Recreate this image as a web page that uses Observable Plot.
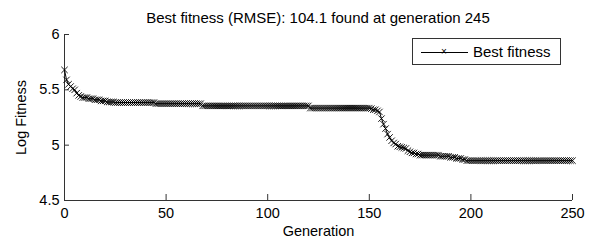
<!DOCTYPE html>
<html>
<head>
<meta charset="utf-8">
<script src="https://cdn.jsdelivr.net/npm/d3@7"></script>
<script src="https://cdn.jsdelivr.net/npm/@observablehq/plot@0.6"></script>
<style>
  body { margin: 0; background: #fff; }
  #wrap { position: relative; width: 592px; height: 241px; font-family: "Liberation Sans", Arial, sans-serif; color: #000; }
  #chart { position: absolute; left: 0; top: 0; }
  #title { position: absolute; left: 64px; width: 508px; top: 10px; text-align: center; font-size: 15px; line-height: 15px; white-space: nowrap; }
  #legend { position: absolute; left: 412px; top: 38px; width: 147px; height: 25px; border: 1px solid #333; background: #fff; }
  #legend .ln { position: absolute; left: 8px; top: 13px; width: 47px; height: 0; border-top: 1px solid #000; }
  #legend .mk { position: absolute; left: 26px; top: 6px; width: 10px; text-align: center; font-size: 10px; line-height: 14px; }
  #legend .tx { position: absolute; left: 60px; top: 0; font-size: 15px; line-height: 26px; white-space: nowrap; }
</style>
</head>
<body>
<div id="wrap">
  <div id="chart"></div>
  <div id="title"></div>
  <div id="legend"><div class="ln"></div><div class="mk">×</div><div class="tx"></div></div>
</div>
<script>
const titleText = "Best fitness (RMSE): 104.1 found at generation 245";
const seriesName = "Best fitness";
const xLabel = "Generation";
const yLabel = "Log Fitness";
const xTicks = [0, 50, 100, 150, 200, 250];
const yTicks = [4.5, 5, 5.5, 6];

// Best (log) fitness per generation 0..250
const fitness = [
  5.68, 5.59, 5.55, 5.53, 5.51, 5.50, 5.47, 5.45, 5.44, 5.43,
  5.43, 5.43, 5.42, 5.42, 5.42, 5.41, 5.41, 5.41, 5.40, 5.40,
  5.40, 5.39, 5.39, 5.39, 5.39, 5.385, 5.385, 5.385, 5.385, 5.385,
  5.385, 5.385, 5.385, 5.385, 5.385, 5.385, 5.385, 5.385, 5.385, 5.385,
  5.385, 5.385, 5.385, 5.385, 5.385, 5.375, 5.375, 5.375, 5.375, 5.375,
  5.375, 5.375, 5.375, 5.375, 5.375, 5.375, 5.375, 5.375, 5.375, 5.375,
  5.375, 5.375, 5.375, 5.375, 5.375, 5.375, 5.375, 5.375, 5.355, 5.355,
  5.355, 5.355, 5.355, 5.355, 5.355, 5.355, 5.355, 5.355, 5.355, 5.355,
  5.355, 5.355, 5.355, 5.355, 5.355, 5.355, 5.355, 5.355, 5.355, 5.355,
  5.355, 5.355, 5.355, 5.355, 5.355, 5.355, 5.355, 5.355, 5.355, 5.355,
  5.355, 5.355, 5.355, 5.355, 5.355, 5.355, 5.355, 5.355, 5.355, 5.355,
  5.355, 5.355, 5.355, 5.355, 5.355, 5.355, 5.355, 5.355, 5.355, 5.355,
  5.355, 5.335, 5.335, 5.335, 5.335, 5.335, 5.335, 5.335, 5.335, 5.335,
  5.335, 5.335, 5.335, 5.335, 5.335, 5.335, 5.335, 5.335, 5.335, 5.335,
  5.335, 5.335, 5.335, 5.335, 5.335, 5.335, 5.335, 5.335, 5.335, 5.335,
  5.335, 5.33, 5.32, 5.32, 5.31, 5.30, 5.24, 5.19, 5.15, 5.10,
  5.07, 5.04, 5.02, 5.01, 4.99, 4.985, 4.98, 4.975, 4.97, 4.95,
  4.94, 4.93, 4.93, 4.92, 4.92, 4.91, 4.91, 4.91, 4.91, 4.91,
  4.91, 4.91, 4.91, 4.91, 4.91, 4.90, 4.90, 4.90, 4.90, 4.90,
  4.89, 4.89, 4.89, 4.88, 4.88, 4.88, 4.87, 4.87, 4.86, 4.86,
  4.86, 4.86, 4.86, 4.86, 4.86, 4.86, 4.86, 4.86, 4.86, 4.86,
  4.86, 4.86, 4.86, 4.86, 4.86, 4.86, 4.86, 4.86, 4.86, 4.86,
  4.86, 4.86, 4.86, 4.86, 4.86, 4.86, 4.86, 4.86, 4.86, 4.86,
  4.86, 4.86, 4.86, 4.86, 4.86, 4.86, 4.86, 4.86, 4.86, 4.86,
  4.86, 4.86, 4.86, 4.86, 4.86, 4.86, 4.86, 4.86, 4.86, 4.86,
  4.86
];
const generation = fitness.map((_, i) => i);
const data = generation.map((g, i) => ({ generation: g, fitness: fitness[i] }));

document.getElementById("title").textContent = titleText;
document.querySelector("#legend .tx").textContent = seriesName;

const chart = Plot.plot({
  width: 592,
  height: 241,
  marginTop: 34,
  marginBottom: 41,
  marginLeft: 64,
  marginRight: 20,
  style: { fontFamily: "'Liberation Sans', Arial, sans-serif", fontSize: "14.5px", background: "transparent", color: "#000" },
  x: { domain: [0, 250] },
  y: { domain: [4.5, 6] },
  marks: [
    Plot.ruleY([4.5], { stroke: "#333" }),
    Plot.ruleX([0], { stroke: "#333" }),
    Plot.axisX(xTicks, {
      tickSize: -6, tickPadding: 13, stroke: "#333", fill: "#000",
      tickFormat: d => String(d),
      label: xLabel, labelAnchor: "center", labelArrow: "none", labelOffset: 35
    }),
    Plot.axisY(yTicks, {
      tickSize: -5, tickPadding: 10, stroke: "#333", fill: "#000",
      tickFormat: d => String(d),
      label: yLabel, labelAnchor: "center", labelArrow: "none", labelOffset: 49
    }),
    Plot.line(data, { x: "generation", y: "fitness", stroke: "#000", strokeWidth: 1 }),
    Plot.dot(data, { x: "generation", y: "fitness", symbol: "times", r: 3, stroke: "#000", strokeWidth: 0.9 })
  ]
});
document.getElementById("chart").appendChild(chart);
</script>
</body>
</html>
